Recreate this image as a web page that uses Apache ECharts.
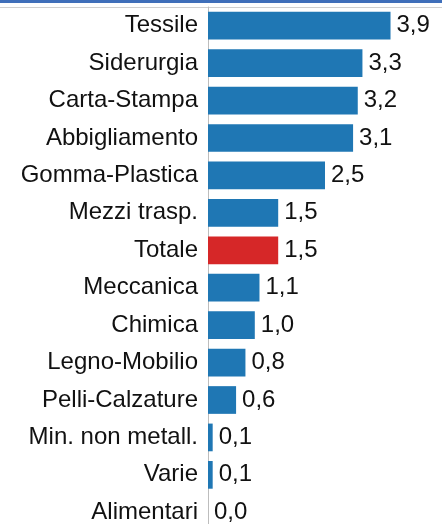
<!DOCTYPE html>
<html>
<head>
<meta charset="utf-8">
<script src="https://cdn.jsdelivr.net/npm/echarts@6/dist/echarts.min.js"></script>
<style>
  html, body { margin: 0; padding: 0; background: #fff; overflow: hidden; }
  #chart { width: 442px; height: 560px; }
</style>
</head>
<body>
<div id="chart"></div>
<script>
// settori e valori (%)
var categories = ['Tessile', 'Siderurgia', 'Carta-Stampa', 'Abbigliamento', 'Gomma-Plastica',
  'Mezzi trasp.', 'Totale', 'Meccanica', 'Chimica', 'Legno-Mobilio', 'Pelli-Calzature',
  'Min. non metall.', 'Varie', 'Alimentari'];
var values = [3.9, 3.3, 3.2, 3.1, 2.5, 1.5, 1.5, 1.1, 1.0, 0.8, 0.6, 0.1, 0.1, 0.0];
var highlight = 'Totale';

var blue = '#1f77b4', red = '#d62728';

// il grafico originale è tagliato in basso: il div è più alto della finestra
var myChart = echarts.init(document.getElementById('chart'));
var option = {
  animation: false,
  graphic: [
    { type: 'rect', shape: { x: 0, y: 0, width: 442, height: 3 }, style: { fill: '#3f6fba' } },
    { type: 'rect', shape: { x: 0, y: 7, width: 442, height: 1 }, style: { fill: '#d0d0d0' } }
  ],
  grid: { left: 208, top: 7, width: 236, height: 524 },
  xAxis: {
    type: 'value', min: 0, max: 5, show: false, splitLine: { show: false }
  },
  yAxis: {
    type: 'category',
    inverse: true,
    data: categories,
    axisLine: { show: true, lineStyle: { color: '#bdbdbd', width: 1 } },
    axisTick: { show: false },
    axisLabel: { margin: 10, fontSize: 24, color: '#111', fontFamily: 'Liberation Sans, Arial' }
  },
  series: [{
    type: 'bar',
    barCategoryGap: '26%',
    data: values.map(function (v, i) {
      return {
        value: v,
        itemStyle: { color: categories[i] === highlight ? red : blue }
      };
    }),
    label: {
      show: true,
      position: 'right',
      distance: 6,
      fontSize: 24,
      color: '#111',
      fontFamily: 'Liberation Sans, Arial',
      formatter: function (p) { return p.value.toFixed(1).replace('.', ','); }
    }
  }]
};
myChart.setOption(option);
</script>
</body>
</html>
